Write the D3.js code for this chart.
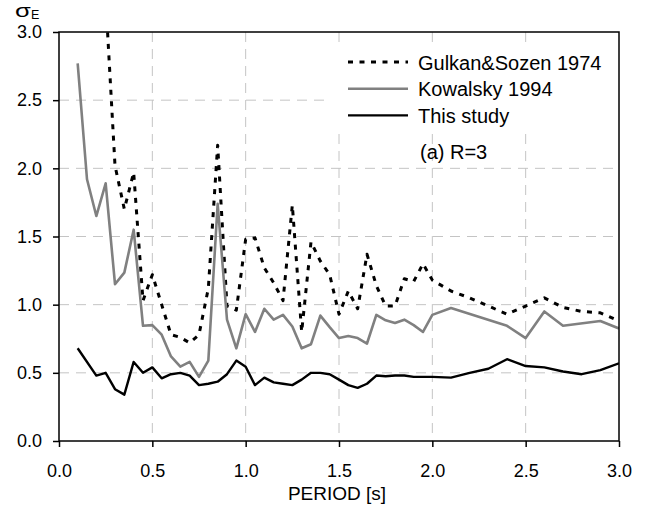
<!DOCTYPE html>
<html lang="en">
<head>
    <meta charset="UTF-8">
    <title>Sigma E vs period</title>
    <script src="https://cdnjs.cloudflare.com/ajax/libs/d3/7.8.5/d3.min.js"></script>
    <style>
        body { margin: 0; background: #fff; }
        text { font-family: Arial, "Liberation Sans", sans-serif; fill: #000; }
    </style>
</head>
<body>
    <svg width="647" height="506"></svg>
    <script>
        "use strict";

        // Gulkan & Sozen 1974 (dotted)
        const gulkanT = [0.25,0.3,0.35,0.4,0.45,0.5,0.55,0.6,0.65,0.7,0.75,0.8,0.85,0.9,0.95,1.0,1.05,1.1,1.15,1.2,1.25,1.3,1.35,1.4,1.45,1.5,1.55,1.6,1.65,1.7,1.75,1.8,1.85,1.9,1.95,2.0,2.1,2.2,2.3,2.4,2.5,2.6,2.7,2.8,2.9,3.0];
        const gulkanV = [3.25,2.02,1.70,1.97,1.03,1.22,1.0,0.78,0.76,0.72,0.78,1.12,2.17,0.99,0.96,1.48,1.49,1.27,1.16,1.03,1.73,0.80,1.46,1.32,1.22,0.93,1.10,0.97,1.37,1.14,0.99,0.99,1.19,1.17,1.30,1.18,1.10,1.05,0.99,0.93,0.99,1.05,0.98,0.95,0.94,0.88];

        // Kowalsky 1994 (grey)
        const kowalT = [0.1,0.15,0.2,0.25,0.3,0.35,0.4,0.45,0.5,0.55,0.6,0.65,0.7,0.75,0.8,0.85,0.9,0.95,1.0,1.05,1.1,1.15,1.2,1.25,1.3,1.35,1.4,1.45,1.5,1.55,1.6,1.65,1.7,1.75,1.8,1.85,1.9,1.95,2.0,2.1,2.4,2.5,2.6,2.7,2.9,3.0];
        const kowalV = [2.77,1.92,1.65,1.89,1.15,1.235,1.55,0.845,0.85,0.78,0.62,0.545,0.58,0.47,0.59,1.74,0.89,0.68,0.93,0.80,0.97,0.89,0.925,0.84,0.68,0.71,0.92,0.835,0.755,0.77,0.755,0.715,0.925,0.885,0.865,0.89,0.85,0.80,0.925,0.975,0.845,0.755,0.95,0.845,0.88,0.825];

        // This study (black)
        const studyT = [0.1,0.2,0.25,0.3,0.35,0.4,0.45,0.5,0.55,0.6,0.65,0.7,0.75,0.8,0.85,0.9,0.95,1.0,1.05,1.1,1.15,1.2,1.25,1.3,1.35,1.4,1.45,1.5,1.55,1.6,1.65,1.7,1.75,1.8,1.85,1.9,2.0,2.1,2.2,2.3,2.4,2.5,2.6,2.7,2.8,2.9,3.0];
        const studyV = [0.68,0.48,0.50,0.38,0.34,0.58,0.50,0.54,0.46,0.49,0.50,0.48,0.41,0.42,0.435,0.49,0.59,0.545,0.41,0.465,0.43,0.42,0.41,0.45,0.50,0.50,0.49,0.45,0.41,0.39,0.42,0.48,0.475,0.48,0.48,0.47,0.47,0.465,0.50,0.53,0.60,0.55,0.54,0.51,0.49,0.52,0.57];

        const xTicks = [0, 0.5, 1.0, 1.5, 2.0, 2.5, 3.0];
        const yTicks = [0, 0.5, 1.0, 1.5, 2.0, 2.5, 3.0];

        const legendNames = ["Gulkan&Sozen 1974", "Kowalsky 1994", "This study"];

        const svg = d3.select("svg");
        const margin = { top: 32, right: 28, bottom: 65, left: 59 };
        const w = +svg.attr("width") - margin.left - margin.right;
        const h = +svg.attr("height") - margin.top - margin.bottom;

        const g = svg.append("g").attr("transform", `translate(${margin.left},${margin.top})`);

        const x = d3.scaleLinear().domain([0, 3]).range([0, w]);
        const y = d3.scaleLinear().domain([0, 3]).range([h, 0]);

        // grid
        g.append("g").selectAll("line")
            .data(xTicks.filter(d => d > 0 && d < 3))
            .enter().append("line")
            .attr("x1", d => x(d)).attr("x2", d => x(d))
            .attr("y1", 0).attr("y2", h)
            .attr("stroke", "#c4c4c4").attr("stroke-dasharray", "10,7");
        g.append("g").selectAll("line")
            .data(yTicks.filter(d => d > 0 && d < 3))
            .enter().append("line")
            .attr("y1", d => y(d)).attr("y2", d => y(d))
            .attr("x1", 0).attr("x2", w)
            .attr("stroke", "#c4c4c4").attr("stroke-dasharray", "10,7");

        // legend box covers grid
        g.append("rect")
            .attr("x", 271).attr("y", 10)
            .attr("width", 287).attr("height", 85)
            .attr("fill", "#fff");

        // axes
        const xAxis = g.append("g")
            .attr("transform", `translate(0,${h})`)
            .call(d3.axisBottom(x).tickValues(xTicks).tickFormat(d3.format(".1f")).tickSize(6).tickPadding(17));
        const yAxis = g.append("g")
            .call(d3.axisLeft(y).tickValues(yTicks).tickFormat(d3.format(".1f")).tickSize(6).tickPadding(11));
        [xAxis, yAxis].forEach(a => {
            a.select(".domain").remove();
            a.selectAll("line").attr("stroke", "#000").attr("stroke-width", 1.5);
            a.selectAll("text").attr("font-size", 18).attr("font-family", "Arial, 'Liberation Sans', sans-serif");
        });

        g.append("defs").append("clipPath").attr("id", "clip")
            .append("rect").attr("width", w).attr("height", h);

        const line = d3.line().x(d => x(d[0])).y(d => y(d[1]));

        const series = [
            { t: gulkanT, v: gulkanV, color: "#000", width: 3, dash: "5,6.5" },
            { t: kowalT, v: kowalV, color: "#808080", width: 2.6, dash: null },
            { t: studyT, v: studyV, color: "#000", width: 2.4, dash: null },
        ];

        const plot = g.append("g").attr("clip-path", "url(#clip)");
        series.forEach(s => {
            plot.append("path")
                .datum(d3.zip(s.t, s.v))
                .attr("d", line)
                .attr("fill", "none")
                .attr("stroke", s.color)
                .attr("stroke-width", s.width)
                .attr("stroke-dasharray", s.dash)
                .attr("stroke-linejoin", "round");
        });

        // frame
        g.append("rect")
            .attr("width", w).attr("height", h)
            .attr("fill", "none").attr("stroke", "#000").attr("stroke-width", 1.5);

        // legend
        const leg = g.append("g").attr("transform", "translate(289,30)");
        legendNames.forEach((name, i) => {
            const s = series[i];
            const yy = i * 26.7;
            leg.append("line")
                .attr("x1", 0).attr("x2", 60).attr("y1", yy).attr("y2", yy)
                .attr("stroke", s.color).attr("stroke-width", s.width)
                .attr("stroke-dasharray", s.dash);
            leg.append("text")
                .attr("x", 70).attr("y", yy + 7.5)
                .attr("font-size", 20)
                .text(name);
        });
        g.append("text")
            .attr("x", 361).attr("y", 127)
            .attr("font-size", 20)
            .text("(a) R=3");

        // axis titles
        svg.append("text")
            .attr("x", 337).attr("y", 500)
            .attr("text-anchor", "middle")
            .attr("font-size", 19)
            .text("PERIOD [s]");

        // sigma_E, stretched sideways like the original
        svg.append("text")
            .attr("transform", "translate(15,17) scale(1.35,1)")
            .attr("font-family", "'Liberation Serif', 'Times New Roman', serif")
            .attr("font-size", 19)
            .text("σ");
        svg.append("text")
            .attr("x", 31).attr("y", 18.8)
            .attr("font-family", "'Liberation Serif', 'Times New Roman', serif")
            .attr("font-size", 12.5)
            .text("E");
    </script>
</body>
</html>
